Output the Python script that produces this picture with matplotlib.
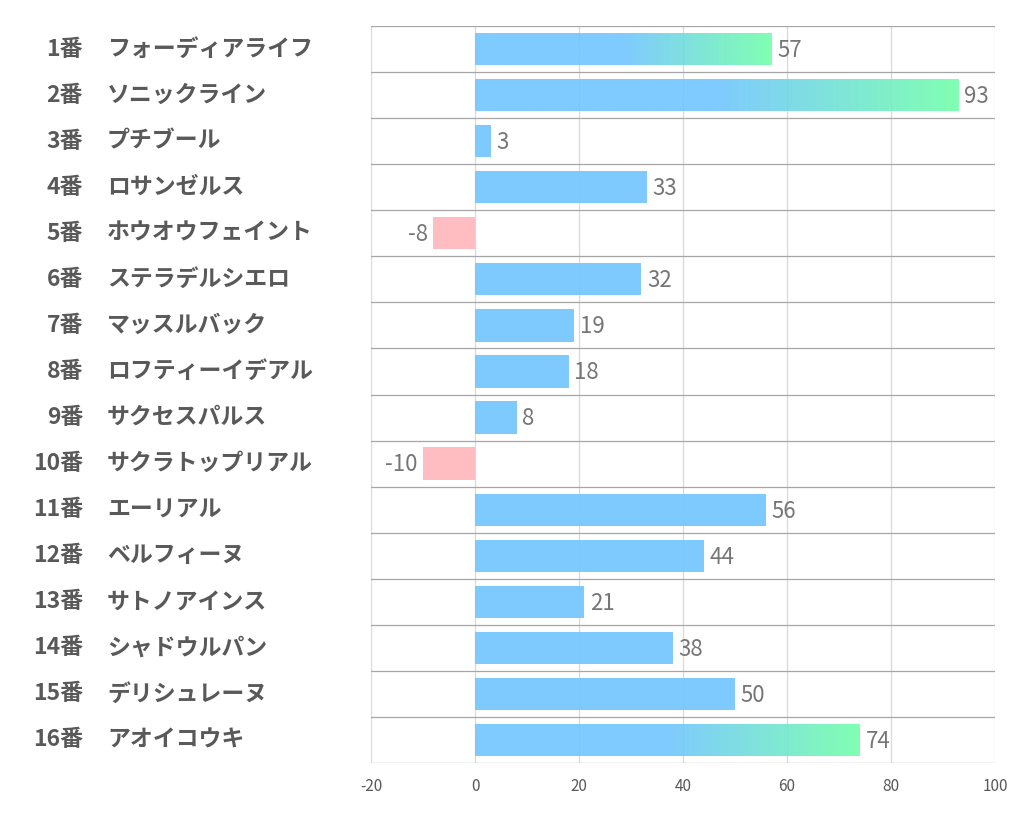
import matplotlib
matplotlib.use("Agg")
import matplotlib.pyplot as plt
import matplotlib.transforms as mtransforms
import numpy as np
from matplotlib.colors import LinearSegmentedColormap

plt.rcParams['font.family'] = ['Noto Sans CJK JP', 'DejaVu Sans']

# data
numbers = ["1番", "2番", "3番", "4番", "5番", "6番", "7番", "8番",
           "9番", "10番", "11番", "12番", "13番", "14番", "15番", "16番"]
names = ["フォーディアライフ", "ソニックライン", "プチブール", "ロサンゼルス",
         "ホウオウフェイント", "ステラデルシエロ", "マッスルバック", "ロフティーイデアル",
         "サクセスパルス", "サクラトップリアル", "エーリアル", "ベルフィーヌ",
         "サトノアインス", "シャドウルパン", "デリシュレーヌ", "アオイコウキ"]
values = [57, 93, 3, 33, -8, 32, 19, 18, 8, -10, 56, 44, 21, 38, 50, 74]
xticks = [-20, 0, 20, 40, 60, 80, 100]

BLUE = (112/255, 197/255, 255/255)
GREEN = (115/255, 255/255, 170/255)
PINK = (255/255, 182/255, 188/255)
ALPHA = 0.9
BAR_H = 0.7
TXT = "#595959"

# top 3 values get the blue -> green gradient
top3 = sorted(range(len(values)), key=lambda i: values[i], reverse=True)[:3]
grad = LinearSegmentedColormap.from_list("bg", [BLUE, BLUE, GREEN])

fig = plt.figure(figsize=(10.22, 8.34), dpi=100)
ax = fig.add_axes([371/1022, 1 - 763/834, 624/1022, 737/834])

for i, v in enumerate(values):
    if v < 0:
        ax.barh(i, v, height=BAR_H, color=PINK, alpha=ALPHA, zorder=2)
    elif i in top3:
        bar = ax.barh(i, v, height=BAR_H, color='none', zorder=2)[0]
        im = ax.imshow(np.linspace(0, 1, 256).reshape(1, -1), cmap=grad,
                       extent=[0, v, i + BAR_H/2, i - BAR_H/2], aspect='auto',
                       alpha=ALPHA, zorder=2)
        im.set_clip_path(bar)
    else:
        ax.barh(i, v, height=BAR_H, color=BLUE, alpha=ALPHA, zorder=2)

    if v >= 0:
        ax.text(v + 1.1, i + 0.03, str(v), ha='left', va='center',
                fontsize=16, color='#767676')
    else:
        ax.text(v - 1.1, i + 0.03, str(v), ha='right', va='center',
                fontsize=16, color='#767676')

ax.set_xlim(-20, 100)
ax.set_ylim(len(values) - 0.5, -0.5)
ax.set_xticks(xticks)
ax.set_xticklabels([str(t) for t in xticks], fontsize=11, color=TXT)
ax.set_yticks([])
ax.tick_params(axis='x', length=0, pad=11)

# gridlines
for t in xticks:
    ax.axvline(t, color='#d9d9d9', lw=0.9, zorder=1)
for b in np.arange(-0.5, len(values), 1):
    ax.axhline(b, color='#a6a6a6', lw=0.9, zorder=3)
for s in ax.spines.values():
    s.set_visible(False)

# row labels
trans = mtransforms.blended_transform_factory(fig.transFigure, ax.transData)
for i in range(len(values)):
    fig.text(83/1022, i, numbers[i], transform=trans, ha='right', va='center',
             fontsize=16.5, fontweight='bold', color=TXT)
    fig.text(107/1022, i, names[i], transform=trans, ha='left', va='center',
             fontsize=16.5, fontweight='bold', color=TXT)

fig.savefig("out.png", dpi=100)
